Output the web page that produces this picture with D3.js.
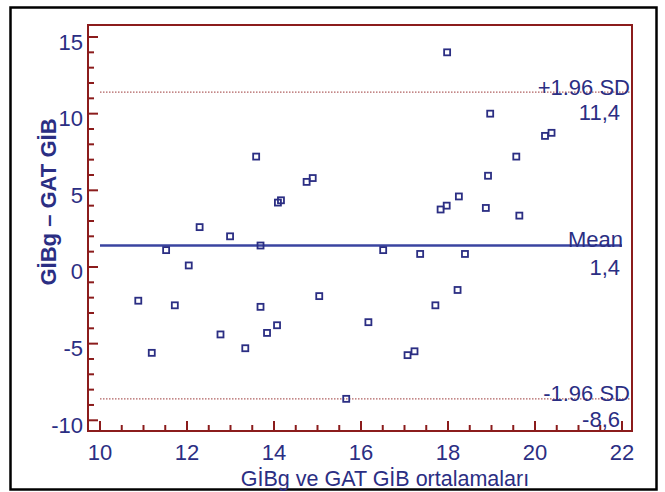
<!DOCTYPE html>
<html><head><meta charset="utf-8">
<script src="https://cdn.jsdelivr.net/npm/d3@7/dist/d3.min.js"></script>
<style>
html,body{margin:0;padding:0;background:#fff;}
text{font-family:"Liberation Sans",Arial,sans-serif;fill:#2b2e83;}
</style></head>
<body><svg id="c" width="665" height="492"></svg>
<script>
// Data
const meanX = [10.88,11.19,11.52,11.72,12.04,12.29,12.77,12.99,13.34,13.59,13.69,13.69,13.84,14.07,14.09,14.16,14.75,14.89,15.04,15.66,16.17,16.51,17.07,17.23,17.36,17.71,17.83,17.97,17.98,18.22,18.25,18.39,18.87,18.92,18.97,19.57,19.64,20.23,20.38];
const diffY = [-2.2,-5.6,1.1,-2.5,0.1,2.6,-4.4,2.0,-5.3,7.2,1.4,-2.6,-4.3,-3.8,4.2,4.35,5.55,5.8,-1.9,-8.6,-3.6,1.1,-5.75,-5.5,0.85,-2.5,3.75,4.0,14.0,-1.5,4.6,0.85,3.85,5.95,10.0,7.2,3.35,8.55,8.75];
const xTicks = [10,12,14,16,18,20,22];
const yTicks = [-10,-5,0,5,10,15];
const meanDiff = 1.4, upperLoA = 11.4, lowerLoA = -8.6;
const limitLabels = [
  {v: upperLoA, name: "+1.96 SD", val: "11,4"},
  {v: meanDiff, name: "Mean", val: "1,4"},
  {v: lowerLoA, name: "-1.96 SD", val: "-8,6"}
];
const xTitle = "GİBg ve GAT GİB ortalamaları";
const yTitle = "GİBg – GAT GİB";

const svg = d3.select("#c");
const x = d3.scaleLinear().domain([10,22]).range([100,622]);
const y = d3.scaleLinear().domain([-10,15]).range([420.3,37]);
const frame = {l:88, r:632, t:25, b:431};
const red = "#8b1c1c", blue = "#2b2e83";

// outer black frame
svg.append("rect").attr("x",10.5).attr("y",7.5).attr("width",646).attr("height",482)
  .attr("fill","none").attr("stroke","#000").attr("stroke-width",2.5);

// plot frame
svg.append("rect").attr("x",frame.l).attr("y",frame.t).attr("width",frame.r-frame.l).attr("height",frame.b-frame.t)
  .attr("fill","#fff").attr("stroke",red).attr("stroke-width",2);

// y ticks (inward)
const yMinor = d3.range(-10,15.01,1);
svg.append("g").selectAll("line").data(yMinor).join("line")
  .attr("x1",frame.l).attr("x2",d=> frame.l + (d%5===0?10:6))
  .attr("y1",d=>y(d)).attr("y2",d=>y(d)).attr("stroke",red).attr("stroke-width",2);
// x ticks (inward)
const xMinor = d3.range(10,22.01,0.5);
svg.append("g").selectAll("line").data(xMinor).join("line")
  .attr("x1",d=>x(d)).attr("x2",d=>x(d))
  .attr("y1",frame.b).attr("y2",d=> frame.b - (d%2===0?10:6)).attr("stroke",red).attr("stroke-width",2);

// tick labels
svg.append("g").selectAll("text").data(yTicks).join("text")
  .attr("x",83).attr("y",d=>y(d)+12.5).attr("text-anchor","end").attr("font-size",22).text(d=>d);
svg.append("g").selectAll("text").data(xTicks).join("text")
  .attr("x",d=>x(d)).attr("y",460).attr("text-anchor","middle").attr("font-size",22).text(d=>d);

// limit lines
[upperLoA, lowerLoA].forEach(v=>{
  svg.append("line").attr("x1",x(10)).attr("x2",frame.r-2).attr("y1",y(v)).attr("y2",y(v))
    .attr("stroke","#b06060").attr("stroke-width",1.3).attr("stroke-dasharray","1.5,1.5");
});
svg.append("line").attr("x1",x(10)).attr("x2",x(22)).attr("y1",y(meanDiff)).attr("y2",y(meanDiff))
  .attr("stroke","#3a44a0").attr("stroke-width",2.5);

// limit labels
const lg = svg.append("g");
limitLabels.forEach(d=>{
  const isMean = d.name==="Mean";
  lg.append("text").attr("x", isMean?623:630).attr("y", y(d.v)+ (isMean?1.5:2.5)).attr("text-anchor","end")
    .attr("font-size",22).text(d.name);
  lg.append("text").attr("x",620).attr("y", y(d.v)+(isMean?29.5:28)).attr("text-anchor","end")
    .attr("font-size",22).text(d.val);
});

// points
const pts = meanX.map((m,i)=>({m, d: diffY[i]}));
svg.append("g").selectAll("rect").data(pts).join("rect")
  .attr("x",p=>x(p.m)-3).attr("y",p=>y(p.d)-3).attr("width",6).attr("height",6)
  .attr("fill","none").attr("stroke",blue).attr("stroke-width",1.8);

// axis titles
svg.append("text").attr("x",385).attr("y",486).attr("text-anchor","middle").attr("font-size",21.5).text(xTitle);
svg.append("text").attr("transform","translate(56,202) rotate(-90)").attr("text-anchor","middle")
  .attr("font-size",22).attr("font-weight","bold").text(yTitle);
</script>
</body></html>
